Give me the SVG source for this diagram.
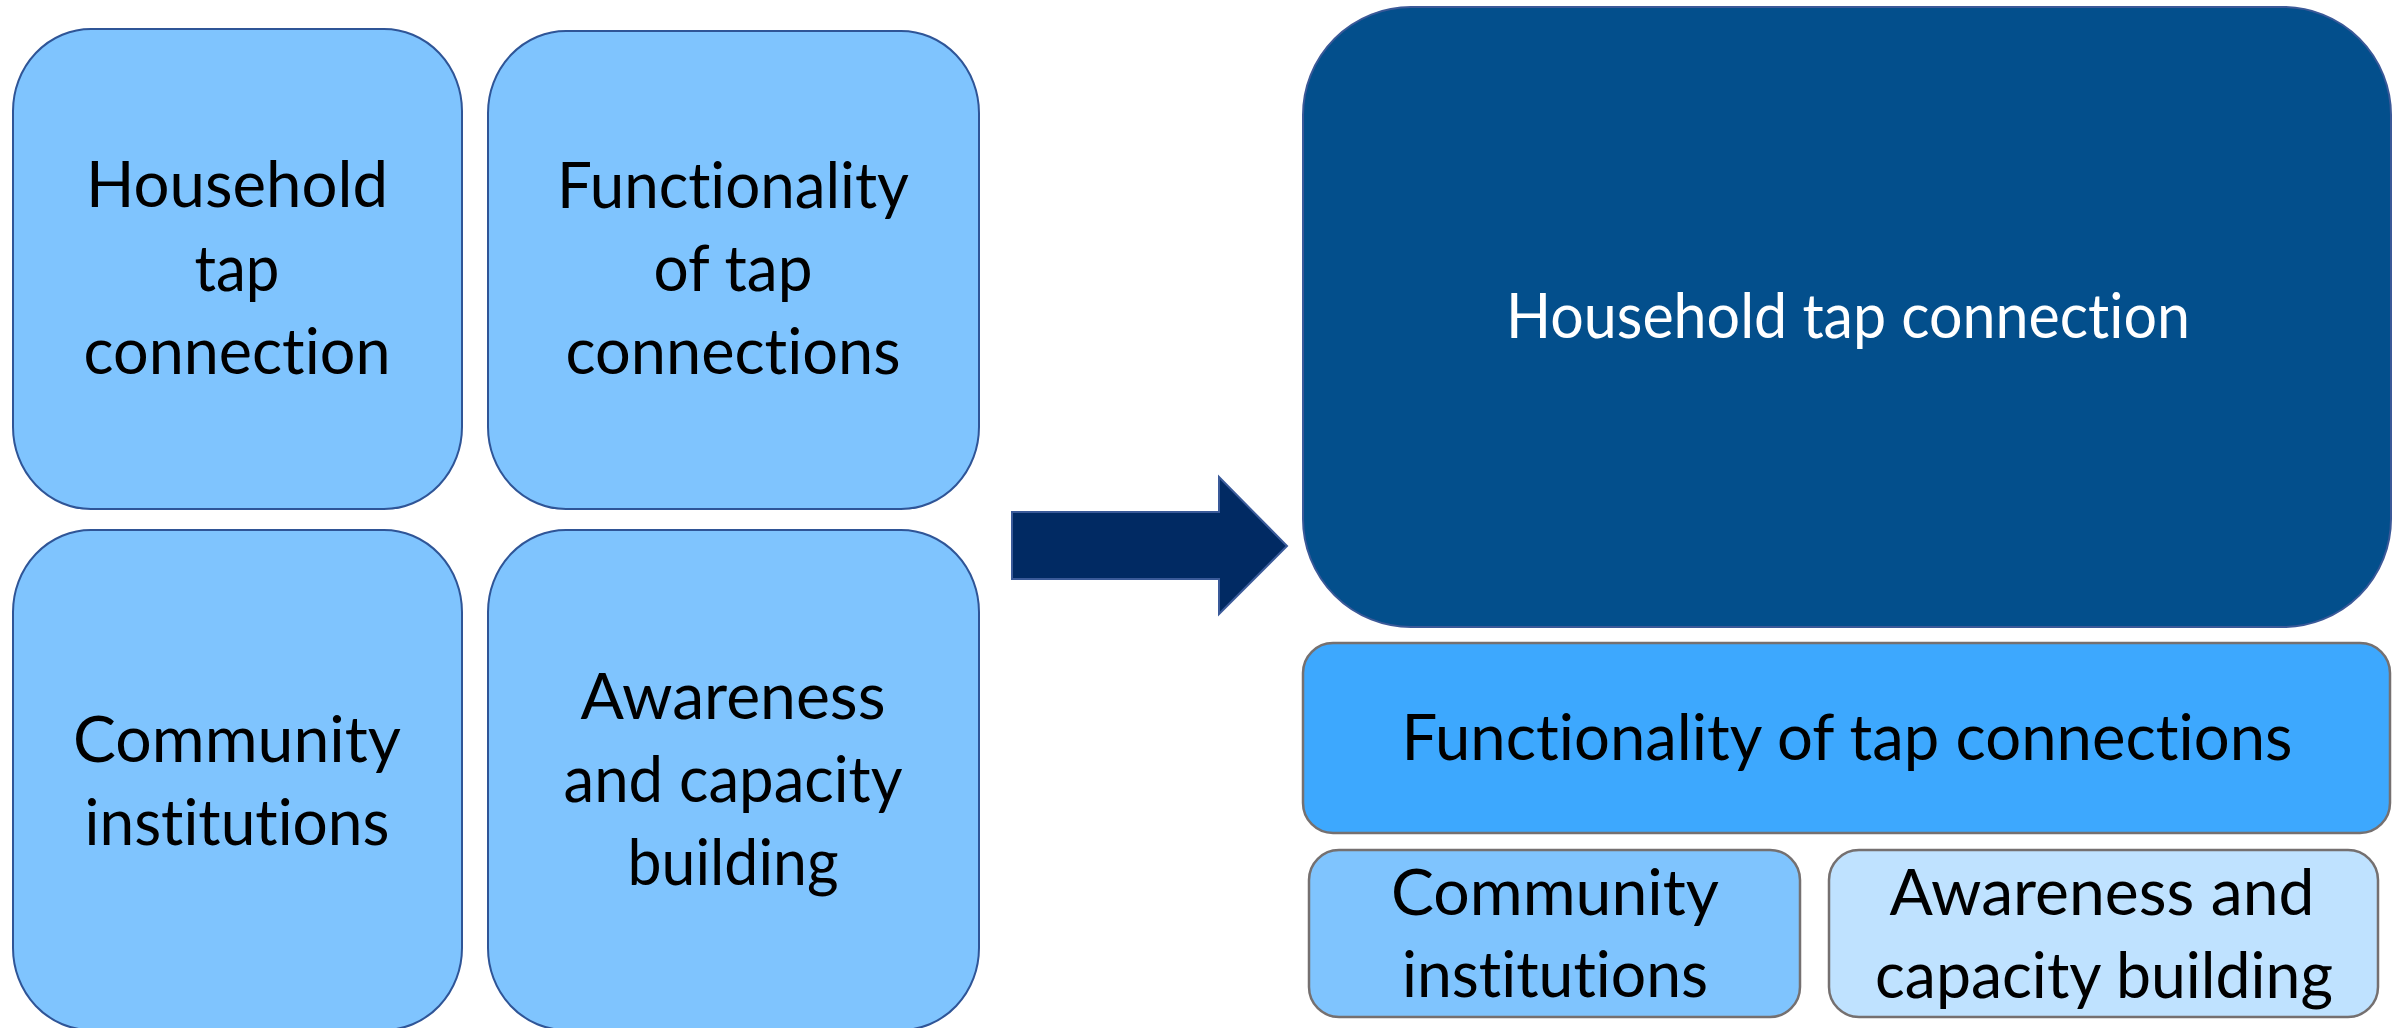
<svg xmlns="http://www.w3.org/2000/svg" width="2405" height="1028" viewBox="0 0 2405 1028">
  <style>
    .lbl { font-family: Lato, "Open Sans", "Liberation Sans", sans-serif; font-size: 64px; text-anchor: middle; fill: #000000; font-variant-ligatures: none; }
    .white { fill: #ffffff; font-size: 61px; }
    .tile { fill: #7FC4FE; stroke: #2F5597; stroke-width: 2; }
    .gray { stroke: #757070; stroke-width: 2.5; }
  </style>
  <rect width="2405" height="1028" fill="#ffffff"/>

  <!-- left: four equal components -->
  <g id="node-household">
    <rect class="tile" x="13" y="29" width="449" height="480" rx="78" ry="82"/>
    <text class="lbl" x="237" y="207" textLength="302" lengthAdjust="spacingAndGlyphs">Household</text>
    <text class="lbl" x="237" y="291" textLength="85" lengthAdjust="spacingAndGlyphs">tap</text>
    <text class="lbl" x="237" y="374" textLength="307" lengthAdjust="spacingAndGlyphs">connection</text>
  </g>
  <g id="node-functionality">
    <rect class="tile" x="488" y="31" width="491" height="478" rx="78" ry="82"/>
    <text class="lbl" x="733" y="208" textLength="352" lengthAdjust="spacingAndGlyphs">Functionality</text>
    <text class="lbl" x="733" y="291" textLength="159" lengthAdjust="spacingAndGlyphs">of tap</text>
    <text class="lbl" x="733" y="374" textLength="335" lengthAdjust="spacingAndGlyphs">connections</text>
  </g>
  <g id="node-community">
    <rect class="tile" x="13" y="530" width="449" height="500" rx="78" ry="82"/>
    <text class="lbl" x="237" y="762" textLength="328" lengthAdjust="spacingAndGlyphs">Community</text>
    <text class="lbl" x="237" y="845" textLength="305" lengthAdjust="spacingAndGlyphs">institutions</text>
  </g>
  <g id="node-awareness">
    <rect class="tile" x="488" y="530" width="491" height="500" rx="78" ry="82"/>
    <text class="lbl" x="733" y="719" textLength="305" lengthAdjust="spacingAndGlyphs">Awareness</text>
    <text class="lbl" x="733" y="802" textLength="339" lengthAdjust="spacingAndGlyphs">and capacity</text>
    <text class="lbl" x="733" y="885" textLength="211" lengthAdjust="spacingAndGlyphs">building</text>
  </g>

  <!-- transition arrow -->
  <g id="connectors">
    <path d="M1012,512 L1219,512 L1219,477 L1287,546 L1219,614 L1219,579 L1012,579 Z" fill="#012A63" stroke="#3A5A99" stroke-width="2"/>
  </g>

  <!-- right: prioritised stack -->
  <g id="node-household-main">
    <rect x="1303" y="7" width="1088" height="620" rx="108" ry="108" fill="#034F8C" stroke="#3B5998" stroke-width="2"/>
    <text class="lbl white" x="1848" y="338" textLength="684" lengthAdjust="spacingAndGlyphs">Household tap connection</text>
  </g>
  <g id="node-functionality-main">
    <rect class="gray" x="1303" y="643" width="1087" height="190" rx="30" ry="30" fill="#3DA8FE"/>
    <text class="lbl" x="1847" y="760" textLength="891" lengthAdjust="spacingAndGlyphs">Functionality of tap connections</text>
  </g>
  <g id="node-community-main">
    <rect class="gray" x="1309" y="850" width="491" height="167" rx="30" ry="30" fill="#7FC4FE"/>
    <text class="lbl" x="1555" y="915" textLength="328" lengthAdjust="spacingAndGlyphs">Community</text>
    <text class="lbl" x="1555" y="997" textLength="306" lengthAdjust="spacingAndGlyphs">institutions</text>
  </g>
  <g id="node-awareness-main">
    <rect class="gray" x="1829" y="850" width="549" height="167" rx="30" ry="30" fill="#BFE2FF"/>
    <text class="lbl" x="2102" y="915" textLength="425" lengthAdjust="spacingAndGlyphs">Awareness and</text>
    <text class="lbl" x="2104" y="998" textLength="458" lengthAdjust="spacingAndGlyphs">capacity building</text>
  </g>
</svg>
